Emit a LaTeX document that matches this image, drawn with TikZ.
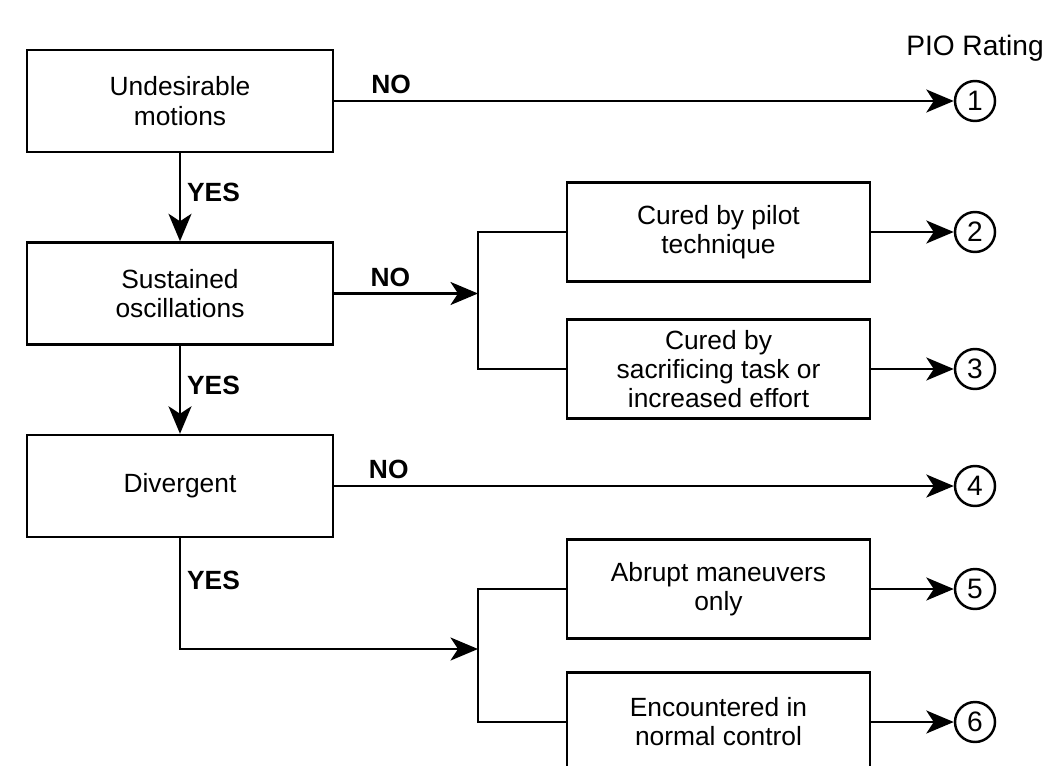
\documentclass[tikz,border=0pt]{standalone}
\usepackage{fontspec}
\setmainfont{Liberation Sans}
\usepackage{tikz}
\usetikzlibrary{positioning,shapes,arrows.meta,calc}

\begin{document}
\begin{tikzpicture}[node distance=3.85cm, auto, line width=1.4pt]
    \tikzstyle{process} = [rectangle, minimum width=6.12cm, minimum height=2.04cm, text centered, align=center, draw=black, font=\fontsize{15}{16.8}\selectfont]
    \tikzstyle{outcome} = [rectangle, minimum width=6.06cm, minimum height=1.98cm, text centered, align=center, draw=black, font=\fontsize{15}{16.5}\selectfont]
    \tikzstyle{rating} = [circle, draw=black, minimum size=0.8cm, inner sep=0pt, font=\fontsize{16}{16}\selectfont]
    \tikzstyle{answer} = [font=\bfseries\fontsize{15}{15}\selectfont]
    \tikzstyle{arrow} = [-{Stealth[length=5.5mm,width=4.6mm,inset=1.5mm]}]

    \useasboundingbox (0,0) rectangle (21.08,-15.3);
    \clip (0,0) rectangle (21.08,-15.3);

    \node [process] (motions) at (3.6,-2.02) {Undesirable\\motions};
    \node [process, below of=motions] (sustained) {Sustained\\oscillations};
    \node [process, below of=sustained] (divergent) {Divergent};

    \node [outcome] (pilot) at (14.37,-4.64) {Cured by pilot\\technique};
    \node [outcome, below of=pilot, node distance=2.74cm] (sacrifice) {Cured by\\sacrificing task or\\increased effort};
    \node [outcome] (abrupt) at (14.37,-11.78) {Abrupt maneuvers\\only};
    \node [outcome, below of=abrupt, node distance=2.66cm] (normal) {Encountered in\\normal control};

    \node [rating, right of=motions, node distance=15.9cm] (r1) {1};
    \node [rating, right of=pilot, node distance=5.13cm] (r2) {2};
    \node [rating, right of=sacrifice, node distance=5.13cm] (r3) {3};
    \node [rating, right of=divergent, node distance=15.9cm] (r4) {4};
    \node [rating, right of=abrupt, node distance=5.13cm] (r5) {5};
    \node [rating, right of=normal, node distance=5.13cm] (r6) {6};
    \node [above of=r1, node distance=1.05cm, font=\fontsize{16}{16}\selectfont] (pio) {PIO Rating};

    \coordinate (bus1) at (9.56,0);
    \coordinate (bus2) at (9.56,-12.98);

    \draw [arrow] (motions) -- node[answer, above, pos=0.092] {NO} (r1);
    \draw [arrow] (motions) -- node[answer, right, pos=0.45] {YES} (sustained);
    \draw [arrow] (sustained) -- node[answer, above, pos=0.39] {NO} (sustained -| bus1);
    \draw (pilot.west) -| (bus1 |- sacrifice.west) -- (sacrifice.west);
    \draw [arrow] (sustained) -- node[answer, right, pos=0.45] {YES} (divergent);
    \draw [arrow] (divergent) -- node[answer, above, pos=0.088] {NO} (r4);
    \draw [arrow] (divergent) |- node[answer, right, pos=0.19] {YES} (bus2);
    \draw (abrupt.west) -| (bus2 |- normal.west) -- (normal.west);
    \draw [arrow] (pilot) -- (r2);
    \draw [arrow] (sacrifice) -- (r3);
    \draw [arrow] (abrupt) -- (r5);
    \draw [arrow] (normal) -- (r6);
\end{tikzpicture}
\end{document}
